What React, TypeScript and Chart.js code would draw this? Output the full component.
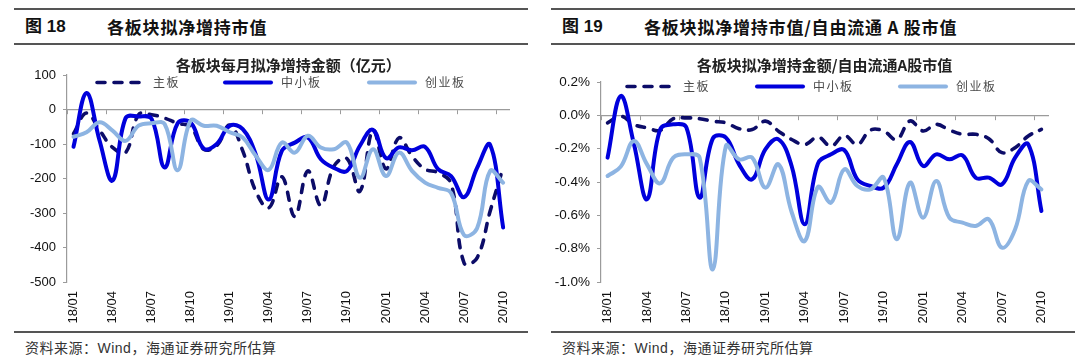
import React, { useEffect, useRef } from 'react';
import { Chart, registerables } from 'chart.js';

Chart.register(...registerables);

// ---------- data ----------
const months = [
  '18/01', '18/02', '18/03', '18/04', '18/05', '18/06', '18/07', '18/08', '18/09', '18/10', '18/11', '18/12',
  '19/01', '19/02', '19/03', '19/04', '19/05', '19/06', '19/07', '19/08', '19/09', '19/10', '19/11', '19/12',
  '20/01', '20/02', '20/03', '20/04', '20/05', '20/06', '20/07', '20/08', '20/09', '20/10',
];
const seriesNames = ['主板', '中小板', '创业板'];

// 各板块每月拟净增持金额（亿元）
const amountMain = [
  -70, -10, -60, -110, -125, -15, -15, -25, -40, -50, -115, -105,
  -45, -120, -237, -285, -195, -310, -178, -278, -165, -142, -237, -60,
  -172, -82, -135, -173, -183, -215, -445, -430, -295, -168,
];
const amountSme = [
  -108, 48, -90, -206, -25, -20, -27, -168, -40, -38, -113, -100,
  -47, -57, -130, -261, -120, -96, -81, -144, -169, -178, -105, -59,
  -141, -110, -118, -108, -173, -193, -254, -169, -102, -342,
];
const amountGem = [
  -79, -66, -37, -61, -91, -47, -40, -42, -176, -32, -47, -47,
  -66, -81, -134, -175, -96, -125, -76, -110, -115, -96, -198, -115,
  -193, -125, -178, -212, -227, -242, -364, -344, -178, -212,
];

// 各板块拟净增持金额/自由流通A股市值（%）
const ratioMain = [
  -0.045, -0.005, -0.055, -0.075, -0.09, -0.02, -0.015, -0.02, -0.035, -0.045, -0.08, -0.085,
  -0.035, -0.095, -0.145, -0.175, -0.13, -0.185, -0.12, -0.175, -0.088, -0.094, -0.145, -0.034,
  -0.094, -0.054, -0.088, -0.114, -0.114, -0.14, -0.224, -0.194, -0.124, -0.084,
];
const ratioSme = [
  -0.254, 0.116, -0.17, -0.504, -0.084, -0.054, -0.074, -0.494, -0.14, -0.134, -0.294, -0.384,
  -0.204, -0.144, -0.304, -0.654, -0.29, -0.234, -0.208, -0.384, -0.424, -0.434, -0.294, -0.16,
  -0.304, -0.234, -0.264, -0.24, -0.374, -0.374, -0.414, -0.254, -0.174, -0.574,
];
const ratioGem = [
  -0.364, -0.308, -0.154, -0.294, -0.408, -0.254, -0.234, -0.254, -0.924, -0.184, -0.264, -0.254,
  -0.434, -0.294, -0.58, -0.754, -0.43, -0.524, -0.324, -0.424, -0.444, -0.374, -0.744, -0.404,
  -0.614, -0.394, -0.614, -0.644, -0.664, -0.624, -0.794, -0.684, -0.394, -0.444,
];

const amountAxis = { min: -500, max: 100, step: 100 };
const ratioAxis = { min: -1.0, max: 0.2, step: 0.2 };
const labelEvery = 3;

// ---------- styles ----------
const AXIS = '#9b9b9b';
const TEXT = '#111111';
const COLORS = ['#0c0c68', '#0000dc', '#8db4e2'];
const CJK = '"Noto Sans CJK SC", "Liberation Sans", sans-serif';
const LATIN = '"Liberation Sans", Arial, "Noto Sans CJK SC", sans-serif';

const inlineLegend = {
  id: 'inlineLegend',
  afterDatasetsDraw(chart: any, _args: any, opts: any) {
    const ctx = chart.ctx as CanvasRenderingContext2D;
    ctx.save();
    chart.data.datasets.forEach((ds: any, i: number) => {
      const x = opts.xs[i];
      const y = opts.y;
      ctx.beginPath();
      ctx.strokeStyle = ds.borderColor;
      ctx.lineWidth = ds.borderWidth;
      ctx.lineCap = ds.borderCapStyle || 'butt';
      ctx.setLineDash(ds.borderDash || []);
      ctx.moveTo(x + 2, y);
      ctx.lineTo(x + opts.lineLength - 2, y);
      ctx.stroke();
      ctx.setLineDash([]);
      ctx.fillStyle = opts.color;
      ctx.font = opts.font;
      (ctx as any).letterSpacing = opts.letterSpacing;
      ctx.textBaseline = 'middle';
      ctx.textAlign = 'left';
      ctx.fillText(ds.label, x + opts.lineLength + opts.gap, y);
    });
    ctx.restore();
  },
};

function makeDatasets(values: number[][]) {
  return values.map((data, i) => ({
    label: seriesNames[i],
    data,
    borderColor: COLORS[i],
    backgroundColor: COLORS[i],
    borderWidth: i === 0 ? 3.6 : 4,
    borderDash: i === 0 ? [8, 9] : [],
    borderCapStyle: i === 0 ? 'round' : 'round',
    borderJoinStyle: 'round',
    pointRadius: 0,
    tension: 0.4,
    fill: false,
    xAxisID: 'x',
    order: 3 - i,
  }));
}

interface ChartCfg {
  title: string;
  values: number[][];
  axis: { min: number; max: number; step: number };
  fmt: (v: number) => string;
  yWidth: number;
  titlePad: { top: number; bottom: number };
  legendXs: number[];
  legendY: number;
  rightPad: number;
  tickFont: number;
}

function LineChart({ cfg, width, height }: { cfg: ChartCfg; width: number; height: number }) {
  const ref = useRef<HTMLCanvasElement>(null);
  useEffect(() => {
    if (!ref.current) return;
    const chart = new Chart(ref.current, {
      type: 'line',
      data: { labels: months, datasets: makeDatasets(cfg.values) as any },
      plugins: [inlineLegend],
      options: {
        animation: false,
        responsive: false,
        devicePixelRatio: 1,
        layout: { padding: { left: 0, right: cfg.rightPad, top: 0, bottom: 0 } },
        plugins: {
          legend: { display: false },
          tooltip: { enabled: false },
          title: {
            display: true,
            text: cfg.title,
            fullSize: false,
            color: '#222',
            font: { family: CJK, size: 15, weight: 'bold' },
            padding: cfg.titlePad,
          },
          inlineLegend: {
            xs: cfg.legendXs,
            y: cfg.legendY,
            lineLength: 50,
            gap: 8,
            color: '#4a4a4a',
            font: `12px ${CJK}`,
            letterSpacing: '1.5px',
          },
        } as any,
        scales: {
          x: {
            type: 'category',
            position: 'bottom',
            offset: true,
            grid: { display: false, drawTicks: false },
            border: { display: false },
            ticks: {
              autoSkip: false,
              minRotation: 90,
              maxRotation: 90,
              padding: 9,
              color: TEXT,
              font: { family: LATIN, size: 13 },
              callback: (_v: any, i: number) => (i % labelEvery === 0 ? months[i] : ''),
            },
            afterFit: (s: any) => {
              s.height = 50;
            },
          },
          x2: {
            type: 'category',
            axis: 'x',
            position: { y: 0 },
            offset: true,
            grid: {
              offset: true,
              drawOnChartArea: false,
              drawTicks: true,
              tickLength: 4,
              lineWidth: 1,
              color: (c: any) => (typeof c.index === 'number' && c.index % labelEvery === 0 ? AXIS : 'rgba(0,0,0,0)'),
            },
            border: { display: true, color: AXIS, width: 1.2 },
            ticks: { display: false, autoSkip: false },
          },
          y: {
            type: 'linear',
            position: 'left',
            min: cfg.axis.min,
            max: cfg.axis.max,
            ticks: {
              stepSize: cfg.axis.step,
              padding: 7,
              color: TEXT,
              font: { family: LATIN, size: cfg.tickFont },
              callback: (v: any) => cfg.fmt(Number(v)),
            },
            grid: { drawOnChartArea: false, drawTicks: true, tickLength: 4, color: AXIS },
            border: { display: true, color: AXIS, width: 1.2 },
            afterFit: (s: any) => {
              s.width = cfg.yWidth;
            },
          },
        } as any,
      },
    });
    return () => chart.destroy();
  }, [cfg]);
  return <canvas ref={ref} width={width} height={height} style={{ width, height, display: 'block' }} />;
}

const leftCfg: ChartCfg = {
  title: '各板块每月拟净增持金额（亿元）',
  values: [amountMain, amountSme, amountGem],
  axis: amountAxis,
  fmt: (v) => String(Math.round(v)),
  yWidth: 53,
  titlePad: { top: 10, bottom: 1 },
  legendXs: [81, 209, 353],
  legendY: 36.5,
  rightPad: 13,
  tickFont: 13,
};

const rightCfg: ChartCfg = {
  title: '各板块拟净增持金额/自由流通A股市值',
  values: [ratioMain, ratioSme, ratioGem],
  axis: ratioAxis,
  fmt: (v) => (Math.abs(v) < 1e-9 ? 0 : v).toFixed(1) + '%',
  yWidth: 50,
  titlePad: { top: 10, bottom: 8 },
  legendXs: [74, 204, 347],
  legendY: 40.5,
  rightPad: 27,
  tickFont: 13.5,
};

const rule = (left: number, top: number, width: number): React.CSSProperties => ({
  position: 'absolute',
  left,
  top,
  width,
  height: 2,
  background: '#555',
});

function Panel({ left, num, title, cfg, width }: { left: number; num: string; title: string; cfg: ChartCfg; width: number }) {
  return (
    <>
      <div style={rule(left, 8, width)} />
      <div style={rule(left, 42.5, width)} />
      <div style={rule(left, 331, width)} />
      <div
        style={{
          position: 'absolute',
          left: left + 11,
          top: 16,
          height: 22,
          lineHeight: '22px',
          fontFamily: LATIN,
          fontWeight: 'bold',
          fontSize: 17,
          color: '#111',
          whiteSpace: 'nowrap',
        }}
      >
        {num}
      </div>
      <div
        style={{
          position: 'absolute',
          left: left + 93,
          top: 16,
          height: 22,
          lineHeight: '22px',
          fontFamily: '"Noto Sans CJK SC", "Liberation Sans", sans-serif',
          fontWeight: 'bold',
          fontSize: 17,
          letterSpacing: '0.8px',
          color: '#111',
          whiteSpace: 'nowrap',
        }}
      >
        {title}
      </div>
      <div style={{ position: 'absolute', left, top: 46 }}>
        <LineChart cfg={cfg} width={width} height={286} />
      </div>
      <div
        style={{
          position: 'absolute',
          left: left + 11,
          top: 338,
          height: 20,
          lineHeight: '20px',
          fontFamily: '"Liberation Sans", "Noto Sans CJK SC", sans-serif',
          fontSize: 14,
          letterSpacing: '0.5px',
          color: '#333',
          whiteSpace: 'nowrap',
        }}
      >
        资料来源：Wind，海通证券研究所估算
      </div>
    </>
  );
}

export default function App() {
  return (
    <div style={{ position: 'absolute', left: 0, top: 0, width: 1080, height: 364, background: '#fff', overflow: 'hidden' }}>
      <Panel left={14} num="图 18" title="各板块拟净增持市值" cfg={leftCfg} width={514} />
      <Panel left={551} num="图 19" title="各板块拟净增持市值/自由流通 A 股市值" cfg={rightCfg} width={524} />
    </div>
  );
}
